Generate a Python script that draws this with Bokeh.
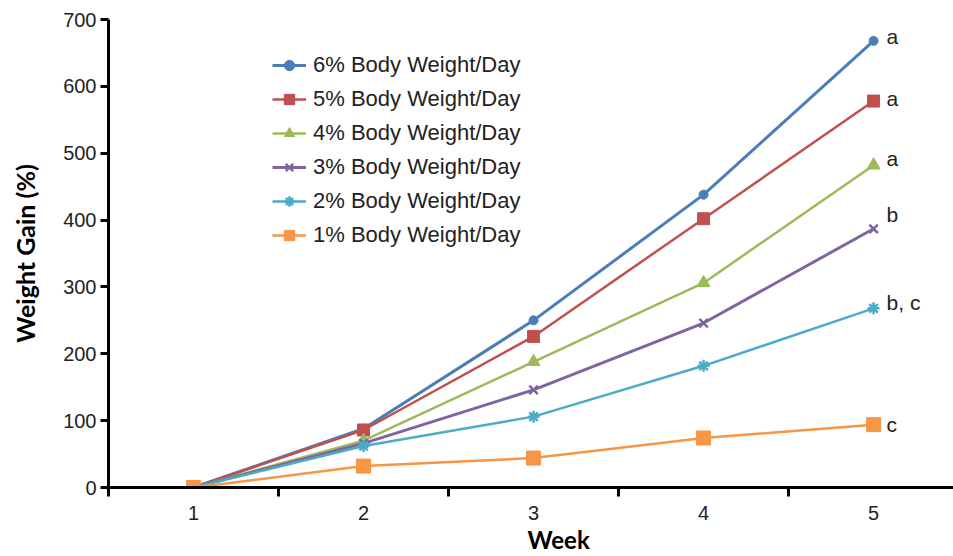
from bokeh.plotting import figure
from bokeh.models import FixedTicker, Legend, LegendItem, Range1d, Title
from bokeh.core.properties import value
from bokeh.embed import file_html
from bokeh.resources import INLINE

# ---- data ----
weeks = [1, 2, 3, 4, 5]
week_bounds = [0.5, 1.5, 2.5, 3.5, 4.5]
y_ticks = [0, 100, 200, 300, 400, 500, 600, 700]

series_names = [
    "6% Body Weight/Day",
    "5% Body Weight/Day",
    "4% Body Weight/Day",
    "3% Body Weight/Day",
    "2% Body Weight/Day",
    "1% Body Weight/Day",
]
gain_6 = [0, 88, 250, 438, 668]
gain_5 = [0, 86, 226, 402, 578]
gain_4 = [0, 70, 188, 306, 482]
gain_3 = [0, 66, 146, 246, 387]
gain_2 = [0, 62, 106, 182, 268]
gain_1 = [0, 32, 44, 74, 94]
sig_letters = ["a", "a", "a", "b", "b, c", "c"]

all_series = [gain_6, gain_5, gain_4, gain_3, gain_2, gain_1]

# ---- styles ----
colors = ["#4A7EBB", "#C0504D", "#9BBB59", "#8064A2", "#4BACC6", "#F79646"]
markers = ["circle", "square", "triangle", "x", "asterisk", "square"]
msizes = [9, 12, 13, 12, 12, 14]
lwidths = [3, 2.5, 2.5, 3, 2.5, 2.5]
letter_dy = [-4, -3, -7, -14, -6, 0]

FONT = "Liberation Sans"
TFONT = "Lato"

p = figure(
    width=953, height=556,
    x_range=Range1d(0.5, 5.47), y_range=Range1d(0, 700),
    output_backend="svg", toolbar_location=None,
    min_border_left=108, min_border_right=0,
    min_border_top=19, min_border_bottom=69,
)
p.outline_line_color = None
p.xgrid.visible = False
p.ygrid.visible = False
p.background_fill_color = "white"
p.border_fill_color = "white"

# x axis
xa = p.xaxis[0]
xa.ticker = FixedTicker(ticks=weeks, minor_ticks=week_bounds)
xa.major_tick_out = 0
xa.major_tick_in = 0
xa.minor_tick_out = 9
xa.minor_tick_in = 0
xa.minor_tick_line_width = 3
xa.minor_tick_line_color = "black"
xa.axis_line_width = 3
xa.axis_line_color = "black"
xa.major_label_standoff = 9
xa.major_label_text_font = FONT
xa.major_label_text_font_size = "20px"
xa.major_label_text_color = "#222222"

# y axis
ya = p.yaxis[0]
ya.ticker = FixedTicker(ticks=y_ticks, minor_ticks=[])
ya.major_tick_out = 8
ya.major_tick_in = 0
ya.major_tick_line_width = 3
ya.major_tick_line_color = "black"
ya.axis_line_width = 3
ya.axis_line_color = "black"
ya.major_label_standoff = 4
ya.major_label_text_font = FONT
ya.major_label_text_font_size = "20px"
ya.major_label_text_color = "#222222"
ya.axis_label = "Weight Gain (%)"
ya.axis_label_text_font = TFONT
ya.axis_label_text_font_style = "bold"
ya.axis_label_text_font_size = "25px"
ya.axis_label_text_color = "black"
ya.axis_label_standoff = 20

items = []
for name, vals, c, m, ms, lw in zip(series_names, all_series, colors, markers, msizes, lwidths):
    lr = p.line(weeks, vals, line_color=c, line_width=lw)
    if m in ("x", "asterisk"):
        sr = p.scatter(weeks, vals, marker=m, size=ms, line_color=c, line_width=2.5)
    else:
        sr = p.scatter(weeks, vals, marker=m, size=ms, fill_color=c, line_color=c)
    items.append(LegendItem(label=name, renderers=[lr, sr]))

legend = Legend(
    items=items, location=(164, 239),
    border_line_color=None, background_fill_alpha=0,
    padding=0, margin=0, spacing=8,
    glyph_height=26, glyph_width=34, label_height=26, label_standoff=7,
    label_text_font=FONT, label_text_font_size="22px", label_text_color="#222222",
)
p.add_layout(legend)

finals = [s[-1] for s in all_series]
p.text(
    x=[weeks[-1]] * len(finals), y=finals, text=sig_letters,
    x_offset=13, y_offset=letter_dy,
    text_baseline="middle", text_align="left",
    text_font=value(FONT), text_font_size="21px", text_color="#222222",
)

# x-axis title as a title panel below the axis
week_title = Title(
    text="Week", align="left", offset=419, standoff=0,
    text_font=TFONT, text_font_style="bold", text_font_size="24px",
    text_color="black",
)
p.add_layout(week_title, "below")

open("out.html", "w").write(file_html(p, INLINE))
